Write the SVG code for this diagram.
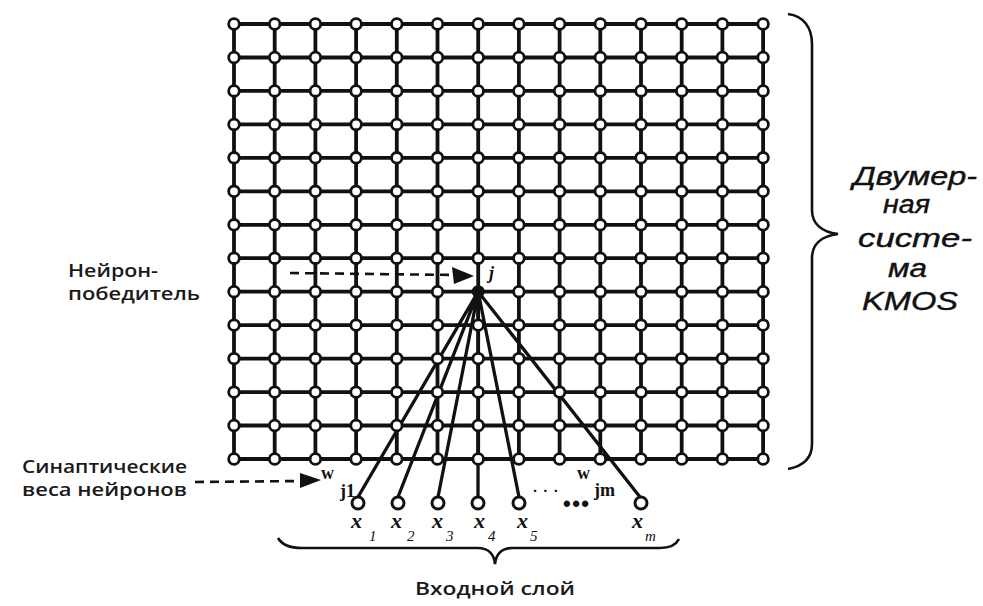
<svg xmlns="http://www.w3.org/2000/svg" xmlns:xlink="http://www.w3.org/1999/xlink" width="983" height="606" viewBox="0 0 983 606">
<style>
.gl{stroke:#111;stroke-width:3.8;fill:none}
.cn{stroke:#111;stroke-width:3.3;fill:none}
.dash{stroke:#111;stroke-width:2.6;stroke-dasharray:9 6;fill:none}
.br{stroke:#111;stroke-width:2.6;fill:none}
.lbl{font-family:"Open Sans","DejaVu Sans",sans-serif;font-weight:600;font-size:18px;fill:#1a1a1a}
.rt{font-family:"Liberation Sans",Arial,sans-serif;font-style:italic;font-size:25px;fill:#111;stroke:#111;stroke-width:0.4}
.sv{font-family:"Liberation Serif","Times New Roman",serif;font-weight:bold;font-size:18px;fill:#111}
.xv{font-family:"Liberation Serif","Times New Roman",serif;font-weight:bold;font-style:italic;font-size:22px;fill:#111}
.xs{font-family:"Liberation Serif","Times New Roman",serif;font-style:italic;font-size:15px;fill:#111}
.dots{font-family:"Liberation Sans",Arial,sans-serif;font-weight:bold;fill:#111}
</style>
<defs>
<circle id="nd" r="5.3" fill="#fff" stroke="#111" stroke-width="2.8"/>
<circle id="ni" r="6" fill="#fff" stroke="#111" stroke-width="3"/>
</defs>
<rect width="983" height="606" fill="#fff"/>

<g id="grid-lines">
<path class="gl" d="M234 24H763.1M234 57.5H763.1M234 90.9H763.1M234 124.4H763.1M234 157.8H763.1M234 191.3H763.1M234 224.8H763.1M234 258.2H763.1M234 291.7H763.1M234 325.1H763.1M234 358.6H763.1M234 392.1H763.1M234 425.5H763.1M234 459H763.1"/>
<path class="gl" d="M234 24V459M274.7 24V459M315.4 24V459M356.1 24V459M396.8 24V459M437.5 24V459M478.2 24V459M518.9 24V459M559.6 24V459M600.3 24V459M641 24V459M681.7 24V459M722.4 24V459M763.1 24V459"/>
</g>

<g id="connectors">
<path class="cn" d="M478.2 291.7L358 497M478.2 291.7L398 497M478.2 291.7L438 497M478.2 291.7L478 497M478.2 291.7L519 497M478.2 291.7L640 497"/>
<line class="dash" x1="290" y1="273" x2="456" y2="275"/>
<polygon points="452,267 474,276 454,284" fill="#111"/>
<line class="dash" x1="195" y1="482" x2="304" y2="481"/>
<polygon points="300,473 321,480 300,488" fill="#111"/>
</g>

<g id="grid-nodes">
<g id="row0" transform="translate(0,24)"><use id="n0-0" href="#nd" x="234"/><use id="n0-1" href="#nd" x="274.7"/><use id="n0-2" href="#nd" x="315.4"/><use id="n0-3" href="#nd" x="356.1"/><use id="n0-4" href="#nd" x="396.8"/><use id="n0-5" href="#nd" x="437.5"/><use id="n0-6" href="#nd" x="478.2"/><use id="n0-7" href="#nd" x="518.9"/><use id="n0-8" href="#nd" x="559.6"/><use id="n0-9" href="#nd" x="600.3"/><use id="n0-10" href="#nd" x="641"/><use id="n0-11" href="#nd" x="681.7"/><use id="n0-12" href="#nd" x="722.4"/><use id="n0-13" href="#nd" x="763.1"/></g>
<g id="row1" transform="translate(0,57.5)"><use id="n1-0" href="#nd" x="234"/><use id="n1-1" href="#nd" x="274.7"/><use id="n1-2" href="#nd" x="315.4"/><use id="n1-3" href="#nd" x="356.1"/><use id="n1-4" href="#nd" x="396.8"/><use id="n1-5" href="#nd" x="437.5"/><use id="n1-6" href="#nd" x="478.2"/><use id="n1-7" href="#nd" x="518.9"/><use id="n1-8" href="#nd" x="559.6"/><use id="n1-9" href="#nd" x="600.3"/><use id="n1-10" href="#nd" x="641"/><use id="n1-11" href="#nd" x="681.7"/><use id="n1-12" href="#nd" x="722.4"/><use id="n1-13" href="#nd" x="763.1"/></g>
<g id="row2" transform="translate(0,90.9)"><use id="n2-0" href="#nd" x="234"/><use id="n2-1" href="#nd" x="274.7"/><use id="n2-2" href="#nd" x="315.4"/><use id="n2-3" href="#nd" x="356.1"/><use id="n2-4" href="#nd" x="396.8"/><use id="n2-5" href="#nd" x="437.5"/><use id="n2-6" href="#nd" x="478.2"/><use id="n2-7" href="#nd" x="518.9"/><use id="n2-8" href="#nd" x="559.6"/><use id="n2-9" href="#nd" x="600.3"/><use id="n2-10" href="#nd" x="641"/><use id="n2-11" href="#nd" x="681.7"/><use id="n2-12" href="#nd" x="722.4"/><use id="n2-13" href="#nd" x="763.1"/></g>
<g id="row3" transform="translate(0,124.4)"><use id="n3-0" href="#nd" x="234"/><use id="n3-1" href="#nd" x="274.7"/><use id="n3-2" href="#nd" x="315.4"/><use id="n3-3" href="#nd" x="356.1"/><use id="n3-4" href="#nd" x="396.8"/><use id="n3-5" href="#nd" x="437.5"/><use id="n3-6" href="#nd" x="478.2"/><use id="n3-7" href="#nd" x="518.9"/><use id="n3-8" href="#nd" x="559.6"/><use id="n3-9" href="#nd" x="600.3"/><use id="n3-10" href="#nd" x="641"/><use id="n3-11" href="#nd" x="681.7"/><use id="n3-12" href="#nd" x="722.4"/><use id="n3-13" href="#nd" x="763.1"/></g>
<g id="row4" transform="translate(0,157.8)"><use id="n4-0" href="#nd" x="234"/><use id="n4-1" href="#nd" x="274.7"/><use id="n4-2" href="#nd" x="315.4"/><use id="n4-3" href="#nd" x="356.1"/><use id="n4-4" href="#nd" x="396.8"/><use id="n4-5" href="#nd" x="437.5"/><use id="n4-6" href="#nd" x="478.2"/><use id="n4-7" href="#nd" x="518.9"/><use id="n4-8" href="#nd" x="559.6"/><use id="n4-9" href="#nd" x="600.3"/><use id="n4-10" href="#nd" x="641"/><use id="n4-11" href="#nd" x="681.7"/><use id="n4-12" href="#nd" x="722.4"/><use id="n4-13" href="#nd" x="763.1"/></g>
<g id="row5" transform="translate(0,191.3)"><use id="n5-0" href="#nd" x="234"/><use id="n5-1" href="#nd" x="274.7"/><use id="n5-2" href="#nd" x="315.4"/><use id="n5-3" href="#nd" x="356.1"/><use id="n5-4" href="#nd" x="396.8"/><use id="n5-5" href="#nd" x="437.5"/><use id="n5-6" href="#nd" x="478.2"/><use id="n5-7" href="#nd" x="518.9"/><use id="n5-8" href="#nd" x="559.6"/><use id="n5-9" href="#nd" x="600.3"/><use id="n5-10" href="#nd" x="641"/><use id="n5-11" href="#nd" x="681.7"/><use id="n5-12" href="#nd" x="722.4"/><use id="n5-13" href="#nd" x="763.1"/></g>
<g id="row6" transform="translate(0,224.8)"><use id="n6-0" href="#nd" x="234"/><use id="n6-1" href="#nd" x="274.7"/><use id="n6-2" href="#nd" x="315.4"/><use id="n6-3" href="#nd" x="356.1"/><use id="n6-4" href="#nd" x="396.8"/><use id="n6-5" href="#nd" x="437.5"/><use id="n6-6" href="#nd" x="478.2"/><use id="n6-7" href="#nd" x="518.9"/><use id="n6-8" href="#nd" x="559.6"/><use id="n6-9" href="#nd" x="600.3"/><use id="n6-10" href="#nd" x="641"/><use id="n6-11" href="#nd" x="681.7"/><use id="n6-12" href="#nd" x="722.4"/><use id="n6-13" href="#nd" x="763.1"/></g>
<g id="row7" transform="translate(0,258.2)"><use id="n7-0" href="#nd" x="234"/><use id="n7-1" href="#nd" x="274.7"/><use id="n7-2" href="#nd" x="315.4"/><use id="n7-3" href="#nd" x="356.1"/><use id="n7-4" href="#nd" x="396.8"/><use id="n7-5" href="#nd" x="437.5"/><use id="n7-6" href="#nd" x="478.2"/><use id="n7-7" href="#nd" x="518.9"/><use id="n7-8" href="#nd" x="559.6"/><use id="n7-9" href="#nd" x="600.3"/><use id="n7-10" href="#nd" x="641"/><use id="n7-11" href="#nd" x="681.7"/><use id="n7-12" href="#nd" x="722.4"/><use id="n7-13" href="#nd" x="763.1"/></g>
<g id="row8" transform="translate(0,291.7)"><use id="n8-0" href="#nd" x="234"/><use id="n8-1" href="#nd" x="274.7"/><use id="n8-2" href="#nd" x="315.4"/><use id="n8-3" href="#nd" x="356.1"/><use id="n8-4" href="#nd" x="396.8"/><use id="n8-5" href="#nd" x="437.5"/><circle id="n8-6-winner" cx="478.2" cy="0" r="6.5" fill="#111"/><use id="n8-7" href="#nd" x="518.9"/><use id="n8-8" href="#nd" x="559.6"/><use id="n8-9" href="#nd" x="600.3"/><use id="n8-10" href="#nd" x="641"/><use id="n8-11" href="#nd" x="681.7"/><use id="n8-12" href="#nd" x="722.4"/><use id="n8-13" href="#nd" x="763.1"/></g>
<g id="row9" transform="translate(0,325.1)"><use id="n9-0" href="#nd" x="234"/><use id="n9-1" href="#nd" x="274.7"/><use id="n9-2" href="#nd" x="315.4"/><use id="n9-3" href="#nd" x="356.1"/><use id="n9-4" href="#nd" x="396.8"/><use id="n9-5" href="#nd" x="437.5"/><use id="n9-6" href="#nd" x="478.2"/><use id="n9-7" href="#nd" x="518.9"/><use id="n9-8" href="#nd" x="559.6"/><use id="n9-9" href="#nd" x="600.3"/><use id="n9-10" href="#nd" x="641"/><use id="n9-11" href="#nd" x="681.7"/><use id="n9-12" href="#nd" x="722.4"/><use id="n9-13" href="#nd" x="763.1"/></g>
<g id="row10" transform="translate(0,358.6)"><use id="n10-0" href="#nd" x="234"/><use id="n10-1" href="#nd" x="274.7"/><use id="n10-2" href="#nd" x="315.4"/><use id="n10-3" href="#nd" x="356.1"/><use id="n10-4" href="#nd" x="396.8"/><use id="n10-5" href="#nd" x="437.5"/><use id="n10-6" href="#nd" x="478.2"/><use id="n10-7" href="#nd" x="518.9"/><use id="n10-8" href="#nd" x="559.6"/><use id="n10-9" href="#nd" x="600.3"/><use id="n10-10" href="#nd" x="641"/><use id="n10-11" href="#nd" x="681.7"/><use id="n10-12" href="#nd" x="722.4"/><use id="n10-13" href="#nd" x="763.1"/></g>
<g id="row11" transform="translate(0,392.1)"><use id="n11-0" href="#nd" x="234"/><use id="n11-1" href="#nd" x="274.7"/><use id="n11-2" href="#nd" x="315.4"/><use id="n11-3" href="#nd" x="356.1"/><use id="n11-4" href="#nd" x="396.8"/><use id="n11-5" href="#nd" x="437.5"/><use id="n11-6" href="#nd" x="478.2"/><use id="n11-7" href="#nd" x="518.9"/><use id="n11-8" href="#nd" x="559.6"/><use id="n11-9" href="#nd" x="600.3"/><use id="n11-10" href="#nd" x="641"/><use id="n11-11" href="#nd" x="681.7"/><use id="n11-12" href="#nd" x="722.4"/><use id="n11-13" href="#nd" x="763.1"/></g>
<g id="row12" transform="translate(0,425.5)"><use id="n12-0" href="#nd" x="234"/><use id="n12-1" href="#nd" x="274.7"/><use id="n12-2" href="#nd" x="315.4"/><use id="n12-3" href="#nd" x="356.1"/><use id="n12-4" href="#nd" x="396.8"/><use id="n12-5" href="#nd" x="437.5"/><use id="n12-6" href="#nd" x="478.2"/><use id="n12-7" href="#nd" x="518.9"/><use id="n12-8" href="#nd" x="559.6"/><use id="n12-9" href="#nd" x="600.3"/><use id="n12-10" href="#nd" x="641"/><use id="n12-11" href="#nd" x="681.7"/><use id="n12-12" href="#nd" x="722.4"/><use id="n12-13" href="#nd" x="763.1"/></g>
<g id="row13" transform="translate(0,459)"><use id="n13-0" href="#nd" x="234"/><use id="n13-1" href="#nd" x="274.7"/><use id="n13-2" href="#nd" x="315.4"/><use id="n13-3" href="#nd" x="356.1"/><use id="n13-4" href="#nd" x="396.8"/><use id="n13-5" href="#nd" x="437.5"/><use id="n13-6" href="#nd" x="478.2"/><use id="n13-7" href="#nd" x="518.9"/><use id="n13-8" href="#nd" x="559.6"/><use id="n13-9" href="#nd" x="600.3"/><use id="n13-10" href="#nd" x="641"/><use id="n13-11" href="#nd" x="681.7"/><use id="n13-12" href="#nd" x="722.4"/><use id="n13-13" href="#nd" x="763.1"/></g>
</g>

<g id="input-layer">
<g id="x1"><use href="#ni" x="358" y="503"/><text class="xv" x="351" y="528">x</text><text class="xs" x="369" y="541">1</text></g>
<g id="x2"><use href="#ni" x="398" y="503"/><text class="xv" x="391" y="528">x</text><text class="xs" x="407" y="541">2</text></g>
<g id="x3"><use href="#ni" x="438" y="503"/><text class="xv" x="432" y="528">x</text><text class="xs" x="446" y="541">3</text></g>
<g id="x4"><use href="#ni" x="478" y="503"/><text class="xv" x="474" y="528">x</text><text class="xs" x="488" y="541">4</text></g>
<g id="x5"><use href="#ni" x="519" y="503"/><text class="xv" x="517" y="528">x</text><text class="xs" x="530" y="541">5</text></g>
<g id="xm"><use href="#ni" x="641" y="503"/><text class="xv" x="632" y="528">x</text><text class="xs" x="645" y="541">m</text></g>
<text class="dots" x="533" y="492" font-size="15" letter-spacing="1">. . .</text>
<text class="dots" x="563" y="511" font-size="22" textLength="26">•••</text>
</g>

<g id="labels">
<text class="sv" x="489" y="279" font-style="italic" font-size="19">j</text>
<text class="sv" x="321" y="479">w</text>
<text class="sv" x="340" y="497">j1</text>
<text class="sv" x="577" y="479">w</text>
<text class="sv" x="594" y="496">jm</text>
<text class="lbl" x="68" y="277" textLength="90" lengthAdjust="spacingAndGlyphs">Нейрон-</text>
<text class="lbl" x="68" y="300" textLength="132" lengthAdjust="spacingAndGlyphs">победитель</text>
<text class="lbl" x="22" y="473" textLength="165" lengthAdjust="spacingAndGlyphs">Синаптические</text>
<text class="lbl" x="22" y="496" textLength="165" lengthAdjust="spacingAndGlyphs">веса нейронов</text>
<text class="lbl" x="415" y="595" textLength="160" lengthAdjust="spacingAndGlyphs">Входной слой</text>
<text class="rt" x="853" y="185" textLength="124" lengthAdjust="spacingAndGlyphs">Двумер-</text>
<text class="rt" x="883" y="213" textLength="47" lengthAdjust="spacingAndGlyphs">ная</text>
<text class="rt" x="858" y="247" textLength="114" lengthAdjust="spacingAndGlyphs">систе-</text>
<text class="rt" x="888" y="277" textLength="39" lengthAdjust="spacingAndGlyphs">ма</text>
<text class="rt" x="862" y="310" textLength="96" lengthAdjust="spacingAndGlyphs">KMOS</text>
</g>

<g id="braces">
<path class="br" d="M788 14C804 16 812 28 812 44V210C812 224 822 232 838 234C822 236 812 244 812 258V444C812 458 804 466 788 469"/>
<path class="br" d="M278 538C282 545 290 548 302 548H478C488 548 494 554 495 564C496 554 502 548 512 548H660C670 548 676 545 679 539"/>
</g>
</svg>
